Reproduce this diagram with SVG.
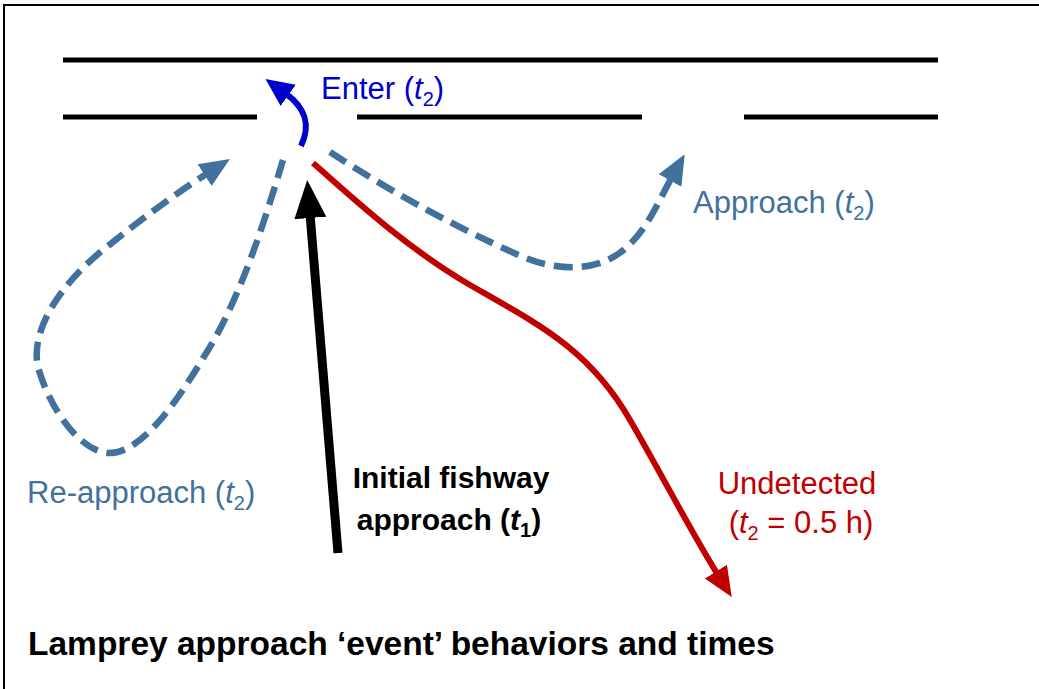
<svg xmlns="http://www.w3.org/2000/svg" width="1039" height="689" viewBox="0 0 1039 689">
<style>
.wall{stroke:#000;stroke-width:5;fill:none}
.dash{stroke:#41719C;stroke-width:6.5;fill:none;stroke-dasharray:19 9}
.lbl{font-family:"Liberation Sans",Arial,sans-serif;font-size:31px}
.bold{font-family:"Liberation Sans",Arial,sans-serif;font-size:30px;font-weight:bold;fill:#000}
.blue{fill:#41719C}
.sub{font-size:20px}
</style>
<defs>
<marker id="ahBlue" markerUnits="userSpaceOnUse" markerWidth="34" markerHeight="34" refX="4" refY="13" orient="auto" viewBox="0 0 34 26">
<path d="M0,0 L30,13 L0,26 Z" fill="#41719C"/>
</marker>
<marker id="ahEnter" markerUnits="userSpaceOnUse" markerWidth="32" markerHeight="32" refX="4" refY="13" orient="auto" viewBox="0 0 32 26">
<path d="M0,0 L28,13 L0,26 Z" fill="#0000CC"/>
</marker>
<marker id="ahBlack" markerUnits="userSpaceOnUse" markerWidth="40" markerHeight="40" refX="4" refY="16" orient="auto" viewBox="0 0 40 32">
<path d="M0,0 L38,16 L0,32 Z" fill="#000"/>
</marker>
<marker id="ahRed" markerUnits="userSpaceOnUse" markerWidth="34" markerHeight="34" refX="4" refY="13" orient="auto" viewBox="0 0 34 26">
<path d="M0,0 L30,13 L0,26 Z" fill="#C00000"/>
</marker>
</defs>
<rect x="0" y="0" width="1039" height="689" fill="#fff"/>
<g id="frame">
<path d="M4,689 L4,5 L1039,5" stroke="#000" stroke-width="2" fill="none"/>
</g>
<g id="walls">
<line class="wall" x1="63" y1="60" x2="938" y2="60"/>
<line class="wall" x1="63" y1="117" x2="257" y2="117"/>
<line class="wall" x1="357" y1="117" x2="642" y2="117"/>
<line class="wall" x1="744" y1="117" x2="938" y2="117"/>
</g>
<g id="connectors">
<path id="enter" d="M301,146 C311,125 306,108 285,93" stroke="#0000CC" stroke-width="6" fill="none" marker-end="url(#ahEnter)"/>
<path id="reapproach" class="dash" d="M283,160 C265,220 240,300 205,355 C175,405 140,455 107,453 C80,450 50,410 38,367 C30,330 60,285 103,250 C140,220 175,194 208,173" marker-end="url(#ahBlue)"/>
<path id="approach" class="dash" d="M330,152 C380,185 450,225 523,257 C560,272 600,272 627,247 C648,228 658,202 672,177" marker-end="url(#ahBlue)"/>
<path id="undetected" d="M313,163 C360,205 410,250 470,285 C540,325 590,350 630,420 C662,475 690,530 718,575" stroke="#C00000" stroke-width="6" fill="none" marker-end="url(#ahRed)"/>
<path id="initial" d="M338,553 L310,214" stroke="#000" stroke-width="9" fill="none" marker-end="url(#ahBlack)"/>
</g>
<g id="label-enter"><text class="lbl" x="321" y="99" fill="#0000CC">Enter (<tspan font-style="italic">t</tspan><tspan class="sub" dy="7">2</tspan><tspan dy="-7">)</tspan></text></g>
<g id="label-approach"><text class="lbl blue" x="693" y="213">Approach (<tspan font-style="italic">t</tspan><tspan class="sub" dy="7">2</tspan><tspan dy="-7">)</tspan></text></g>
<g id="label-reapproach"><text class="lbl blue" x="27" y="503">Re-approach (<tspan font-style="italic">t</tspan><tspan class="sub" dy="7">2</tspan><tspan dy="-7">)</tspan></text></g>
<g id="label-initial">
<text class="bold" x="451" y="488" text-anchor="middle">Initial fishway</text>
<text class="bold" x="449" y="530" text-anchor="middle">approach (<tspan font-style="italic">t</tspan><tspan class="sub" dy="7">1</tspan><tspan dy="-7">)</tspan></text>
</g>
<g id="label-undetected">
<text class="lbl" x="797" y="494" text-anchor="middle" fill="#C00000">Undetected</text>
<text class="lbl" x="801" y="533" text-anchor="middle" fill="#C00000">(<tspan font-style="italic">t</tspan><tspan class="sub" dy="7">2</tspan><tspan dy="-7"> = 0.5 h)</tspan></text>
</g>
<g id="title"><text class="bold" x="28" y="655" style="font-size:33.5px">Lamprey approach ‘event’ behaviors and times</text></g>
</svg>
